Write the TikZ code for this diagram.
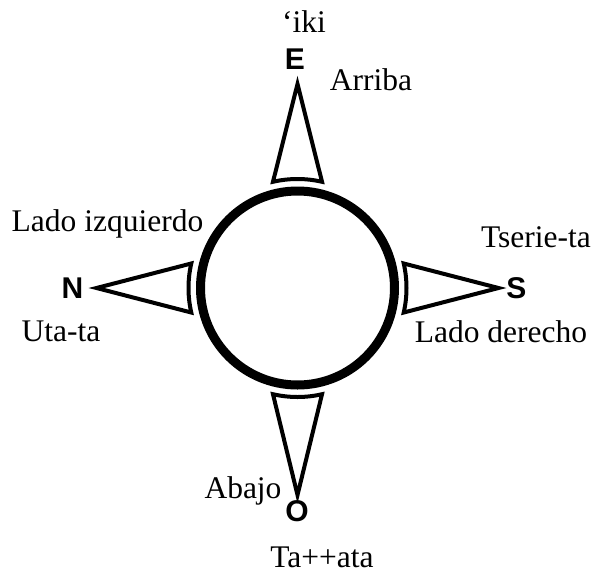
\documentclass[tikz,border=0pt]{standalone}
\usepackage{fontspec}
\setmainfont{Liberation Serif}
\newfontfamily\dirfont{Liberation Sans}
\begin{document}
\begin{tikzpicture}[x=1pt,y=-1pt,
  lbl/.style={font=\fontsize{31.5}{33}\selectfont, inner sep=0pt},
  dirl/.style={font=\dirfont\bfseries\fontsize{30}{32}\selectfont, inner sep=0pt},
  tri/.style={draw=black, line width=4pt, line join=miter, miter limit=20},
  ring/.style={draw=black, line width=9pt}]
\useasboundingbox (0,0) rectangle (595,574);
\coordinate (c) at (297.5,288);
\draw[ring] (c) circle[radius=97];
\begin{scope}[shift={(c)}]
  \foreach \a/\r in {-90/204, 90/207, 180/201, 0/201}{
    \draw[tri] (\a:\r) -- (\a+13:109) arc[start angle=\a+13, end angle=\a-13, radius=109] -- cycle;
  }
\end{scope}
\node[dirl] (E) at (295,59) {E};
\node[dirl] (N) at (72.5,288) {N};
\node[dirl] (S) at (516.5,288) {S};
\node[dirl] (O) at (297,511) {O};
\node[lbl] (iki) at (304,22) {‘iki};
\node[lbl] (arriba) at (371,80) {Arriba};
\node[lbl] (izq) at (107.5,224) {Lado izquierdo};
\node[lbl] (uta) at (61,331) {Uta-ta};
\node[lbl] (tserie) at (536,237) {Tserie-ta};
\node[lbl] (der) at (501,332) {Lado derecho};
\node[lbl] (abajo) at (243,491) {Abajo};
\node[lbl] (taata) at (322,557) {Ta++ata};
\end{tikzpicture}
\end{document}
